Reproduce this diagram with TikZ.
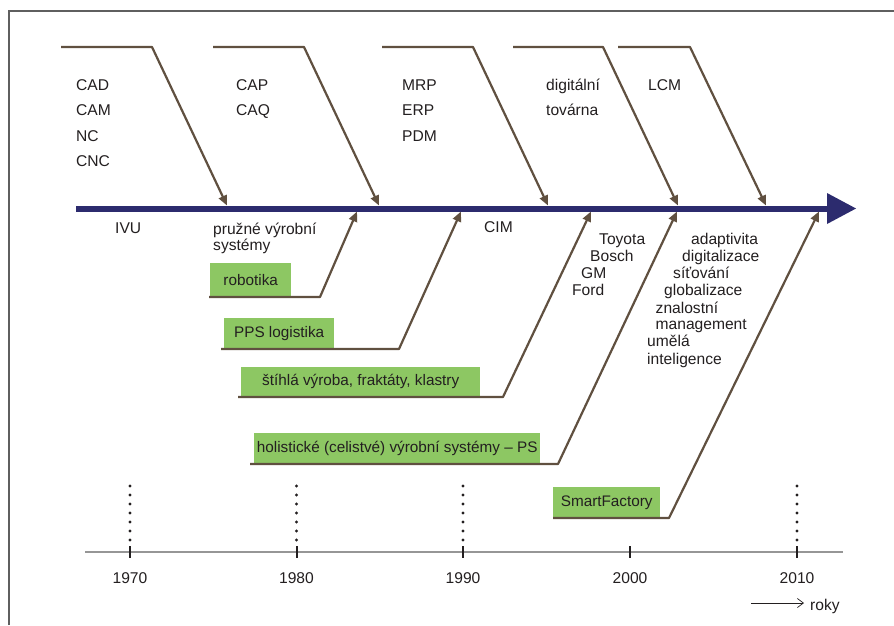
\documentclass[tikz,border=0pt]{standalone}
\usepackage{fontspec}
\setmainfont{Liberation Sans}
\usetikzlibrary{arrows.meta}
\definecolor{navy}{RGB}{44,43,110}
\definecolor{bonec}{RGB}{96,80,64}
\definecolor{boxgreen}{RGB}{141,199,99}
\definecolor{txt}{RGB}{35,31,32}
\definecolor{framec}{RGB}{95,95,95}
\definecolor{axisc}{RGB}{150,150,150}
\begin{document}
\begin{tikzpicture}[x=1pt,y=-1pt,
  lbl/.style={font=\fontsize{15.6}{17}\selectfont, text=txt, inner sep=0pt, anchor=base west},
  yearlbl/.style={font=\fontsize{15.6}{17}\selectfont, text=txt, inner sep=0pt, anchor=base},
  gbox/.style={fill=boxgreen, draw=none, inner sep=0pt, anchor=south west, font=\fontsize{15.3}{17}\selectfont, text=txt},
  bonestyle/.style={draw=bonec, line width=2.2pt, line join=round, -{Triangle[length=10pt,width=8.5pt]}},
  dotcol/.style={fill=txt},
  tickstyle/.style={draw=txt, line width=2pt}
]
\useasboundingbox (0,0) rectangle (894,625);
\fill[white] (0,0) rectangle (894,625);
% frame
\draw[framec, line width=1.5pt] (9,625) -- (9,11) -- (894,11);

% spine
\coordinate (spL) at (76,208.5);
\coordinate (spR) at (830,208.5);
\draw[navy, line width=6pt] (spL) -- (spR);
\fill[navy] (827,193) -- (856,208.5) -- (827,224) -- cycle;

% spine attach points (top)
\coordinate (t1) at (227,205.5);
\coordinate (t2) at (379,205.5);
\coordinate (t3) at (548,205.5);
\coordinate (t4) at (678,205.5);
\coordinate (t5) at (766,205.5);
% spine attach points (bottom)
\coordinate (b1) at (357,211.5);
\coordinate (b2) at (461,211.5);
\coordinate (b3) at (591,211.5);
\coordinate (b4) at (677,211.5);
\coordinate (b5) at (819,211.5);

% top bones
\coordinate (h1) at (61,47);  \coordinate (k1) at (152,47);
\coordinate (h2) at (213,47); \coordinate (k2) at (304,47);
\coordinate (h3) at (382,47); \coordinate (k3) at (473,47);
\coordinate (h4) at (513,47); \coordinate (k4) at (603,47);
\coordinate (h5) at (618,47); \coordinate (k5) at (690,47);
\draw[bonestyle] (h1) -- (k1) -- (t1);
\draw[bonestyle] (h2) -- (k2) -- (t2);
\draw[bonestyle] (h3) -- (k3) -- (t3);
\draw[bonestyle] (h4) -- (k4) -- (t4);
\draw[bonestyle] (h5) -- (k5) -- (t5);

% top labels
\node[lbl] (cad) at (76,90) {CAD};
\node[lbl] (cam) at (76,115.5) {CAM};
\node[lbl] (nc) at (76,141) {NC};
\node[lbl] (cnc) at (76,166.5) {CNC};
\node[lbl] (cap) at (236,90) {CAP};
\node[lbl] (caq) at (236,115.5) {CAQ};
\node[lbl] (mrp) at (402,90) {MRP};
\node[lbl] (erp) at (402,115.5) {ERP};
\node[lbl] (pdm) at (402,141) {PDM};
\node[lbl] (dig) at (546,90) {digitální};
\node[lbl] (tov) at (546,115.5) {továrna};
\node[lbl] (lcm) at (648,90) {LCM};

% labels below spine
\node[lbl] (ivu) at (115,233.5) {IVU};
\node[lbl] (pvs1) at (213,234) {pružné výrobní};
\node[lbl] (pvs2) at (213,250.5) {systémy};
\node[lbl] (cim) at (484,232.5) {CIM};
\node[lbl] (toy) at (599,244) {Toyota};
\node[lbl] (bos) at (590,261) {Bosch};
\node[lbl] (gm) at (581,278) {GM};
\node[lbl] (ford) at (572,295.5) {Ford};
\node[lbl] (ad) at (691,244) {adaptivita};
\node[lbl] (dz) at (682,261) {digitalizace};
\node[lbl] (st) at (673,278) {síťování};
\node[lbl] (gl) at (664,295.5) {globalizace};
\node[lbl] (zn) at (655.5,313) {znalostní};
\node[lbl] (mg) at (655.5,329.5) {management};
\node[lbl] (um) at (647,346.5) {umělá};
\node[lbl] (in) at (647,364) {inteligence};

% green boxes
\node[gbox, minimum width=81pt, minimum height=34pt] (robo) at (210,297) {robotika};
\node[gbox, minimum width=110pt, minimum height=31pt] (pps) at (224,349) {PPS logistika};
\node[gbox, minimum width=239pt, minimum height=30pt] (lean) at (241,397) {štíhlá výroba, fraktáty, klastry};
\node[gbox, minimum width=286pt, minimum height=31pt] (hol) at (254,464) {holistické (celistvé) výrobní systémy – PS};
\node[gbox, minimum width=107pt, minimum height=31pt] (smart) at (553,518) {SmartFactory};

% bottom bones
\draw[bonestyle] ([xshift=-1pt]robo.south west) -- (320,297) -- (b1);
\draw[bonestyle] ([xshift=-3pt]pps.south west) -- (399,349) -- (b2);
\draw[bonestyle] ([xshift=-3pt]lean.south west) -- (503,397) -- (b3);
\draw[bonestyle] ([xshift=-4pt]hol.south west) -- (558,464) -- (b4);
\draw[bonestyle] (smart.south west) -- (669,518) -- (b5);

% time axis
\coordinate (axL) at (85,552);
\coordinate (axR) at (843,552);
\draw[axisc, line width=2pt] (axL) -- (axR);
\foreach \x/\yr in {130/1970, 296.5/1980, 463/1990, 630/2000, 797/2010} {
  \draw[tickstyle] (\x,546) -- (\x,558);
  \node[yearlbl] (y\yr) at (\x,583) {\yr};
}
\foreach \x in {130, 296.5, 463, 797} {
  \foreach \k in {0,...,6} {
    \fill[dotcol] (\x,486+9*\k) circle (1.6pt);
  }
}
% roky
\coordinate (rkL) at (751,603);
\node[lbl] (roky) at (810,610) {roky};
\draw[txt, line width=0.7pt, -{Straight Barb[length=6pt,width=9pt]}] (rkL) -- ([xshift=-6pt]roky.west |- rkL);
\end{tikzpicture}
\end{document}
